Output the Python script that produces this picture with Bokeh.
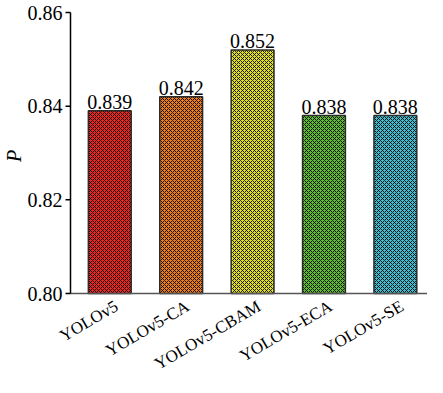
import math
from bokeh.plotting import figure
from bokeh.models import ColumnDataSource, Range1d, LabelSet
from bokeh.core.properties import value
from bokeh.embed import file_html
from bokeh.resources import INLINE

models = ["YOLOv5", "YOLOv5-CA", "YOLOv5-CBAM", "YOLOv5-ECA", "YOLOv5-SE"]
p_values = [0.839, 0.842, 0.852, 0.838, 0.838]
colors = ["#ec2622", "#ec7c20", "#e2de2e", "#62bc35", "#42bccd"]
labels = ["0.839", "0.842", "0.852", "0.838", "0.838"]
y_ticks = [0.80, 0.82, 0.84, 0.86]
y_tick_labels = ["0.80", "0.82", "0.84", "0.86"]
y_base = 0.80
y_top = 0.86
y_name = "P"

FONT = "Liberation Serif"

# geometry of the hand-built axes (pixels on the 427x377 canvas)
W, H = 427, 377
axis_px_left = 70          # y axis distance from canvas left
top_px = 12                # 0.86 distance from canvas top
bottom_px = 84             # room below 0.80 for rotated names
x_axis_pos = -0.05         # data x of the y axis line
x_end = 4.95

px_per_unit = (W - axis_px_left) / (x_end - x_axis_pos)
x_start = x_axis_pos - axis_px_left / px_per_unit
y_span = y_top - y_base
px_per_y = (H - top_px - bottom_px) / y_span
y_hi = y_top + top_px / px_per_y
y_lo = y_base - bottom_px / px_per_y

xpos = [i + 0.5 for i in range(len(models))]
src = ColumnDataSource(dict(x=xpos, name=models, top=p_values, color=colors, label=labels,
                            base=[y_base] * len(models)))
tick_src = ColumnDataSource(dict(x=[x_axis_pos] * len(y_ticks), y=y_ticks, t=y_tick_labels))

p = figure(x_range=Range1d(x_start, x_end), y_range=Range1d(y_lo, y_hi),
           width=W, height=H, output_backend="svg", toolbar_location=None,
           min_border_left=0, min_border_top=0, min_border_bottom=0, min_border_right=0)
p.outline_line_color = None
p.xgrid.grid_line_color = None
p.ygrid.grid_line_color = None
p.xaxis.visible = False
p.yaxis.visible = False

p.vbar(x="x", top="top", bottom=y_base, width=0.6, source=src, fill_color="color",
       line_color="#2a2a2a", line_width=1.5,
       hatch_pattern="diagonal_cross", hatch_color="black", hatch_scale=4, hatch_weight=0.85)

# x axis line
p.segment(x0=[x_axis_pos], y0=[y_base], x1=[x_end], y1=[y_base], line_color="#555555", line_width=1.5)
# y axis line
p.segment(x0=[x_axis_pos], y0=[y_base], x1=[x_axis_pos], y1=[y_top], line_color="black", line_width=1.5)
# y ticks (outward)
p.ray(x="x", y="y", source=tick_src, length=5, length_units="screen", angle=math.pi,
      line_color="black", line_width=1.5)
# y tick labels
p.text(x="x", y="y", text="t", source=tick_src, text_align="right", text_baseline="middle",
       x_offset=-8, text_font=value(FONT), text_font_size="20px", text_color="black")
# y axis name
p.text(x=[x_axis_pos], y=[(y_base + y_top) / 2], text=[y_name], text_align="center",
       text_baseline="middle", angle=math.pi / 2, x_offset=-57, y_offset=3,
       text_font=value(FONT), text_font_style="italic", text_font_size="20px", text_color="black")

lab = LabelSet(x="x", y="top", text="label", source=src, text_align="center",
               text_baseline="bottom", y_offset=2, text_font=FONT,
               text_font_size="20px", text_color="black")
p.add_layout(lab)

p.text(x="x", y="base", text="name", source=src, text_align="right",
       text_baseline="top", angle=0.53, x_offset=2, y_offset=3,
       text_font=value(FONT), text_font_size="17px", text_color="black")

open("out.html", "w").write(file_html(p, INLINE))
